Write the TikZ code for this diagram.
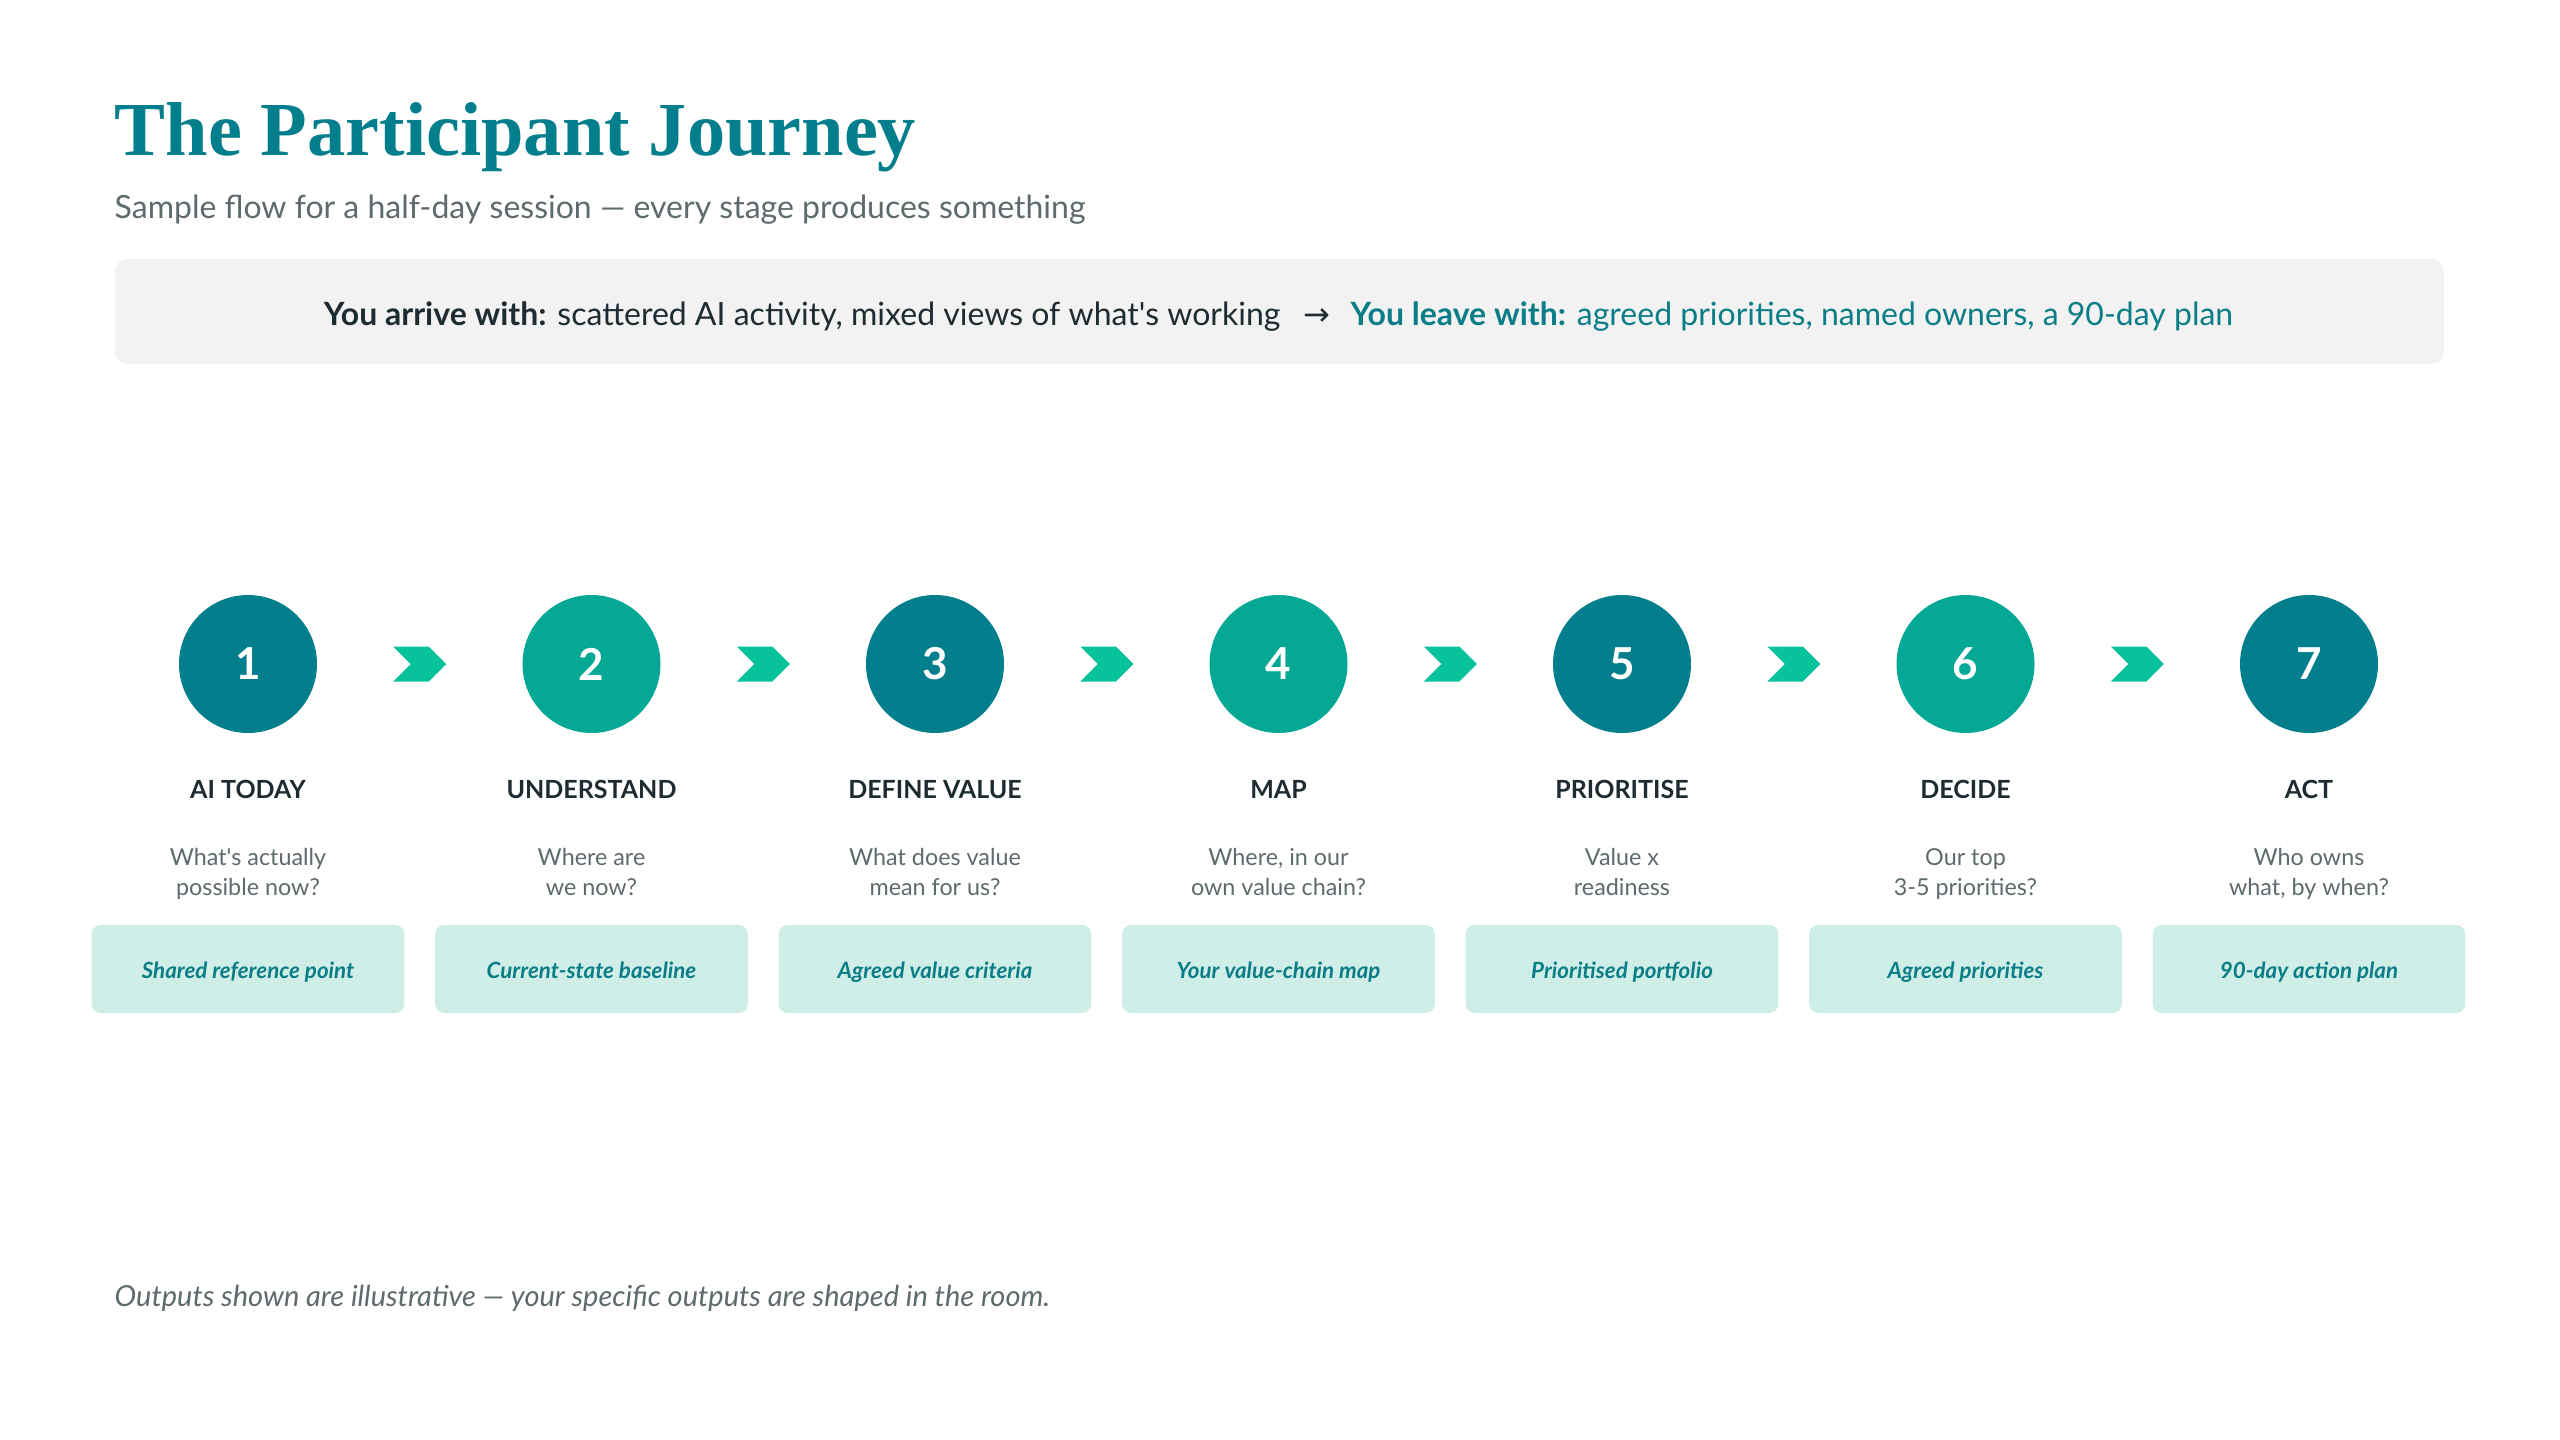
\documentclass[tikz,border=0pt]{standalone}
\usepackage{fontspec}
\setmainfont{Lato}
\newfontfamily\titlefont{Liberation Serif}
\newfontfamily\symfont{DejaVu Sans}
\usepackage{tikz}
\usetikzlibrary{positioning, calc, shapes.symbols}

\definecolor{tealdark}{HTML}{037E8C}
\definecolor{tealmid}{HTML}{05A894}
\definecolor{chevgreen}{HTML}{07C29A}
\definecolor{inkdark}{HTML}{1E2B31}
\definecolor{inkgrey}{HTML}{5E6A6D}
\definecolor{panelgrey}{HTML}{F2F2F2}
\definecolor{outfill}{HTML}{CFEEE8}
\definecolor{outtext}{HTML}{0A7D86}

\begin{document}
\begin{tikzpicture}[
  x=0.3pt, y=-0.3pt,
  stage/.style={circle, minimum size=41.4pt, inner sep=0pt, text=white,
    font=\bfseries\fontsize{13.2}{15}\selectfont},
  chevron/.style={signal, signal to=east, signal from=west, fill=chevgreen,
    minimum width=15.9pt, minimum height=10.5pt, inner sep=0pt, draw=none},
  stagelabel/.style={anchor=base, text=inkdark, font=\bfseries\fontsize{7.5}{9}\selectfont},
  question/.style={anchor=base, align=center, text=inkgrey, font=\fontsize{7}{9}\selectfont},
  outbox/.style={fill=outfill, rounded corners=2.7pt, minimum width=93.8pt,
    minimum height=26.4pt, inner sep=0pt},
  outlabel/.style={anchor=base, text=outtext, font=\bfseries\itshape\fontsize{6.7}{8}\selectfont},
]

% Canvas
\useasboundingbox[fill=white] (0,0) rectangle (2560,1440);

% Heading
\node[anchor=base west, inner sep=0pt, text=tealdark,
  font=\titlefont\bfseries\fontsize{22.9}{27}\selectfont] (title) at (114,155) {The Participant Journey};
\node[anchor=base west, inner sep=0pt, text=inkgrey,
  font=\fontsize{9.6}{12}\selectfont] (subtitle) at (114,218)
  {Sample flow for a half-day session --- every stage produces something};

% Arrive / leave panel
\node[fill=panelgrey, rounded corners=3.6pt, minimum width=698.7pt,
  minimum height=31.5pt, inner sep=0pt] (panel) at (1279.5,311.5) {};
\node[anchor=base, inner sep=0pt, font=\fontsize{9.6}{11}\selectfont] (journey) at (1278.5,325)
  {\textcolor{inkdark}{\textbf{You arrive with:} scattered AI activity, mixed views of what\textquotesingle{}s working}%
   \hspace{7pt}\textcolor{inkdark}{\symfont →}\hspace{6pt}%
   \textcolor{outtext}{\textbf{You leave with:} agreed priorities, named owners, a 90-day plan}};

% Stages
\foreach \n/\name/\qa/\qb/\out/\col in {
  1/AI TODAY/What\textquotesingle{}s actually/possible now?/Shared reference point/tealdark,
  2/UNDERSTAND/Where are/we now?/Current-state baseline/tealmid,
  3/DEFINE VALUE/What does value/mean for us?/Agreed value criteria/tealdark,
  4/MAP/{Where, in our}/own value chain?/Your value-chain map/tealmid,
  5/PRIORITISE/Value x/readiness/Prioritised portfolio/tealdark,
  6/DECIDE/Our top/3-5 priorities?/Agreed priorities/tealmid,
  7/ACT/Who owns/{what, by when?}/90-day action plan/tealdark}
{
  \node[stage, fill=\col] (s\n) at ({248+(\n-1)*343.5},664) {\n};
  \node[stagelabel] (l\n) at ($(s\n)+(0,134)$) {\name};
  \node[question] (q\n) at ($(s\n)+(0,231)$) {\qa\\\qb};
  \node[outbox] (o\n) at ($(s\n)+(0,305)$) {};
  \node[outlabel] (t\n) at ($(s\n)+(0,314)$) {\out};
}

% Chevrons between stages
\foreach \a/\b in {1/2,2/3,3/4,4/5,5/6,6/7}
  \node[chevron] (c\a) at ($(s\a)!0.5!(s\b)$) {};

% Footnote
\node[anchor=base west, inner sep=0pt, text=inkgrey,
  font=\itshape\fontsize{8.7}{10}\selectfont] (note) at (114,1306)
  {Outputs shown are illustrative --- your specific outputs are shaped in the room.};

\end{tikzpicture}
\end{document}
